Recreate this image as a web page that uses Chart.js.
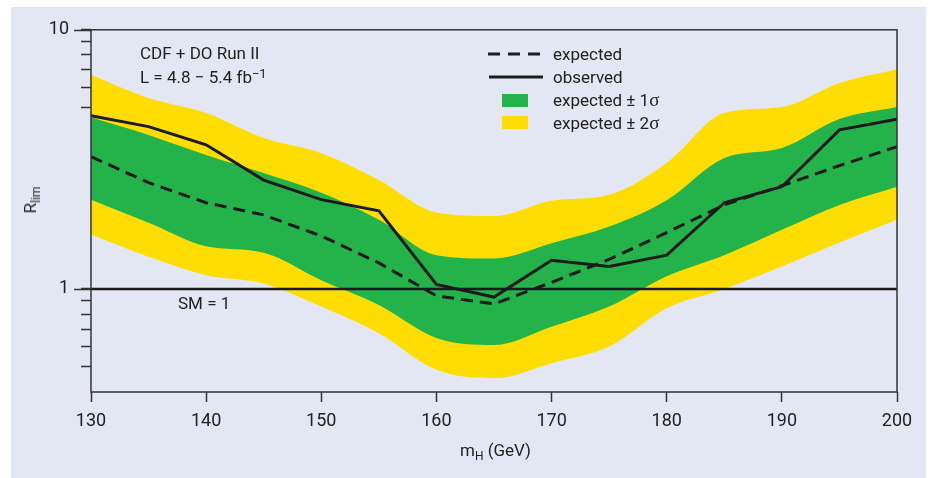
<!DOCTYPE html>
<html>
<head>
<meta charset="utf-8">
<script src="https://cdn.jsdelivr.net/npm/chart.js@4"></script>
<style>
  html, body { margin: 0; padding: 0; background: #fff; width: 929px; height: 478px; overflow: hidden; }
  body { font-family: Roboto, "Liberation Sans", sans-serif; color: #222; }
  #panel { position: absolute; left: 11px; top: 7px; width: 915px; height: 471px; background: #e3e7f3; }
  .txt { position: absolute; font-size: 17px; line-height: 20px; white-space: nowrap; }
  .sig { font-family: "Liberation Serif", "DejaVu Serif", serif; font-size: 19px; }
  sup { font-size: 13px; position: relative; top: -3px; vertical-align: top; }
  sub { font-size: 12px; vertical-align: -4px; }
  .sw { position: absolute; width: 26px; height: 13px; }
</style>
</head>
<body>
<div id="panel"><canvas id="chart"></canvas></div>

<div class="txt" style="left:140px;top:43px">CDF + DO Run II</div>
<div class="txt" style="left:140px;top:67px">L = 4.8 − 5.4 fb<sup>−1</sup></div>
<div class="txt" style="left:178px;top:293px">SM = 1</div>

<svg style="position:absolute;left:486px;top:48px" width="60" height="36">
  <line x1="2" y1="6" x2="56" y2="6" stroke="#1b1b1b" stroke-width="3" stroke-dasharray="12 8"></line>
  <line x1="3" y1="29" x2="57" y2="29" stroke="#1b1b1b" stroke-width="3"></line>
</svg>
<div class="sw" style="left:502px;top:94px;background:#24b24b"></div>
<div class="sw" style="left:502px;top:116px;background:#ffdd00"></div>
<div class="txt" style="left:553px;top:44px">expected</div>
<div class="txt" style="left:553px;top:67px">observed</div>
<div class="txt" style="left:553px;top:90px">expected ± 1<span class="sig">σ</span></div>
<div class="txt" style="left:553px;top:113px">expected ± 2<span class="sig">σ</span></div>

<div class="txt" style="left:460px;top:440px">m<sub>H</sub> (GeV)</div>
<div class="txt" style="left:33px;top:200px;transform:translate(-50%,-50%) rotate(-90deg)">R<sub>lim</sub></div>

<script>
// Higgs mass points (GeV)
const masses = [130, 135, 140, 145, 150, 155, 160, 165, 170, 175, 180, 185, 190, 195, 200];
// limit ratio R_lim
const observed = [4.66, 4.23, 3.6, 2.63, 2.21, 2.0, 1.04, 0.93, 1.29, 1.22, 1.35, 2.15, 2.48, 4.11, 4.52];
const expected = [3.24, 2.57, 2.15, 1.93, 1.6, 1.26, 0.94, 0.875, 1.06, 1.3, 1.65, 2.11, 2.5, 2.99, 3.54];
const sigma1Up = [4.6, 3.93, 3.29, 2.8, 2.35, 1.85, 1.35, 1.31, 1.5, 1.74, 2.2, 3.2, 3.5, 4.53, 5.04];
const sigma1Dn = [2.21, 1.8, 1.46, 1.38, 1.08, 0.867, 0.647, 0.608, 0.715, 0.855, 1.12, 1.35, 1.69, 2.11, 2.48];
const sigma2Up = [6.7, 5.45, 4.77, 3.82, 3.34, 2.63, 1.97, 1.91, 2.19, 2.31, 3.06, 4.77, 5.03, 6.23, 7.05];
const sigma2Dn = [1.62, 1.33, 1.13, 1.05, 0.855, 0.674, 0.487, 0.452, 0.517, 0.599, 0.842, 1.0, 1.22, 1.51, 1.85];
const smLevel = 1;

// axis ticks
const xTicks = [130, 140, 150, 160, 170, 180, 190, 200];
const yTicks = [0.5, 0.6, 0.7, 0.8, 0.9, 1, 5, 6, 7, 8, 9, 10];
const yLabelled = [1, 10];

const pts = (arr) => arr.map((v, i) => ({ x: masses[i], y: v }));

const INK = "#1b1b1b";
const YELLOW = "#ffdd00";
const GREEN = "#24b24b";

// frame around the plot + longer ticks at labelled decades
const framePlugin = {
  id: "frame",
  afterDraw(chart) {
    const { ctx, chartArea: a, scales } = chart;
    ctx.save();
    ctx.strokeStyle = "#333";
    ctx.lineWidth = 1.5;
    ctx.strokeRect(a.left, a.top, a.right - a.left, a.bottom - a.top);
    ctx.beginPath();
    yLabelled.forEach((v) => {
      const y = Math.round(scales.y.getPixelForValue(v)) + 0.5;
      ctx.moveTo(a.left - 17, y);
      ctx.lineTo(a.left, y);
    });
    ctx.stroke();
    ctx.restore();
  },
};

const band = (data, color, fill, order) => ({
  data: pts(data),
  borderWidth: 0,
  borderColor: color,
  backgroundColor: color,
  pointRadius: 0,
  cubicInterpolationMode: "monotone",
  fill,
  order,
});

new Chart(document.getElementById("chart"), {
  type: "line",
  data: {
    datasets: [
      band(sigma2Up, YELLOW, "+1", 4),
      band(sigma2Dn, YELLOW, false, 4),
      band(sigma1Up, GREEN, "+1", 3),
      band(sigma1Dn, GREEN, false, 3),
      {
        data: [{ x: masses[0], y: smLevel }, { x: masses[masses.length - 1], y: smLevel }],
        borderColor: INK,
        borderWidth: 2.5,
        pointRadius: 0,
        fill: false,
        order: 2,
      },
      {
        data: pts(expected),
        borderColor: INK,
        borderWidth: 3,
        borderDash: [12, 7],
        pointRadius: 0,
        fill: false,
        order: 1,
      },
      {
        data: pts(observed),
        borderColor: INK,
        borderWidth: 3,
        pointRadius: 0,
        fill: false,
        order: 0,
      },
    ],
  },
  options: {
    responsive: true,
    maintainAspectRatio: false,
    animation: false,
    layout: { padding: { top: 22, right: 29, left: 0, bottom: 0 } },
    plugins: { legend: { display: false }, tooltip: { enabled: false } },
    scales: {
      x: {
        type: "linear",
        min: 130,
        max: 200,
        afterBuildTicks: (s) => { s.ticks = xTicks.map((v) => ({ value: v })); },
        afterFit: (s) => { s.height = 86; },
        ticks: { color: "#222", font: { family: "Roboto", size: 18 }, padding: 9, maxRotation: 0 },
        grid: { drawOnChartArea: false, drawTicks: true, tickLength: 10, tickColor: "#333", tickWidth: 1.5 },
        border: { display: false },
      },
      y: {
        type: "logarithmic",
        min: 0.4,
        max: 10,
        afterBuildTicks: (s) => { s.ticks = yTicks.map((v) => ({ value: v })); },
        afterFit: (s) => { s.width = 80; },
        ticks: {
          color: "#222",
          font: { family: "Roboto", size: 18 },
          padding: 12,
          callback: (v) => (yLabelled.includes(v) ? String(v) : ""),
        },
        grid: { drawOnChartArea: false, drawTicks: true, tickLength: 10, tickColor: "#333", tickWidth: 1.5 },
        border: { display: false },
      },
    },
  },
  plugins: [framePlugin],
});
</script>
</body>
</html>
